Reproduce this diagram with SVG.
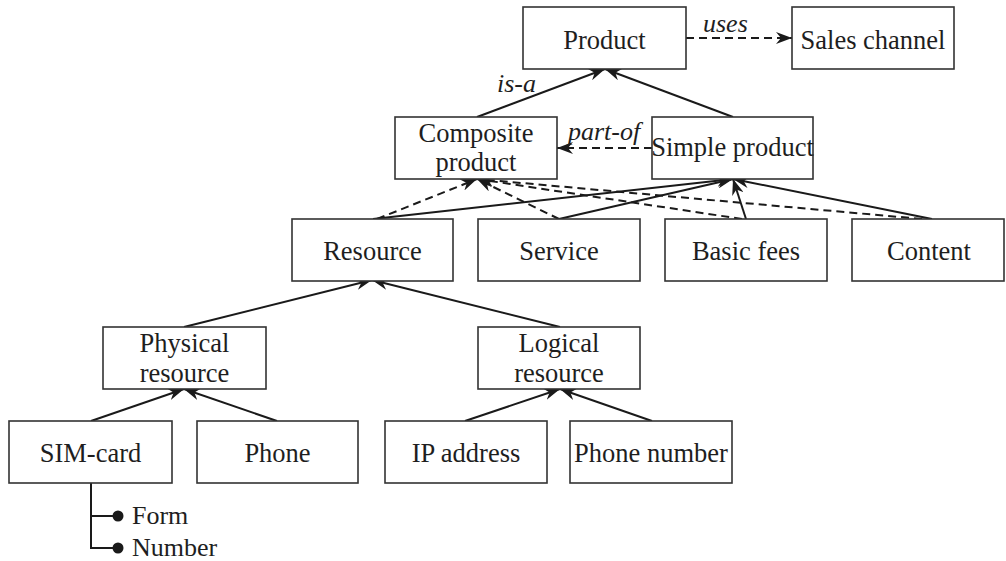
<svg xmlns="http://www.w3.org/2000/svg" width="1006" height="561" viewBox="0 0 1006 561">
<style>
.box{fill:#fff;stroke:#333;stroke-width:1.6}
.t{font-family:"Liberation Serif","Times New Roman",serif;font-size:26.5px;fill:#1e1e1e;text-anchor:middle}
.lbl{font-family:"Liberation Serif","Times New Roman",serif;font-size:26px;font-style:italic;fill:#1e1e1e}
.att{font-family:"Liberation Serif","Times New Roman",serif;font-size:26px;fill:#1e1e1e}
.ln{stroke:#1a1a1a;stroke-width:2;fill:none}
.arr{marker-end:url(#ah)}
.dash{stroke-dasharray:8 5}
</style>
<defs>
<marker id="ah" viewBox="0 0 16 12" markerWidth="16" markerHeight="12" refX="16" refY="6" orient="auto" markerUnits="userSpaceOnUse">
<path d="M0,0 L16,6 L0,12 L5,6 Z" fill="#1a1a1a"/>
</marker>
</defs>
<rect width="1006" height="561" fill="#fff"/>
<g id="connectors">
<line class="ln dash arr" x1="686" y1="38" x2="792" y2="38"/>
<line class="ln arr" x1="477" y1="117" x2="605" y2="69"/>
<line class="ln arr" x1="733" y1="117" x2="605" y2="69"/>
<line class="ln dash arr" x1="652" y1="148" x2="557" y2="148"/>
<line class="ln dash arr" x1="377" y1="219" x2="477" y2="179"/>
<line class="ln dash arr" x1="559" y1="219" x2="477" y2="179"/>
<line class="ln dash arr" x1="742" y1="219" x2="477" y2="179"/>
<line class="ln dash arr" x1="922" y1="219" x2="477" y2="179"/>
<line class="ln arr" x1="373" y1="219" x2="733" y2="179"/>
<line class="ln arr" x1="559" y1="219" x2="733" y2="179"/>
<line class="ln arr" x1="746" y1="219" x2="733" y2="179"/>
<line class="ln arr" x1="932" y1="219" x2="733" y2="179"/>
<line class="ln arr" x1="184" y1="327" x2="372" y2="280"/>
<line class="ln arr" x1="560" y1="327" x2="372" y2="280"/>
<line class="ln arr" x1="91" y1="421" x2="184" y2="389"/>
<line class="ln arr" x1="277" y1="421" x2="184" y2="389"/>
<line class="ln arr" x1="465" y1="421" x2="560" y2="389"/>
<line class="ln arr" x1="652" y1="421" x2="560" y2="389"/>
<path class="ln" d="M91,483 V548 H118 M91,516 H118"/>
<circle cx="118" cy="516" r="5.5" fill="#1a1a1a"/>
<circle cx="118" cy="548" r="5.5" fill="#1a1a1a"/>
<text class="lbl" x="703" y="32">uses</text>
<text class="lbl" x="497" y="92">is-a</text>
<text class="lbl" x="568" y="140">part-of</text>
</g>
<g id="product"><rect class="box" x="523" y="7" width="163" height="62"/><text class="t" x="604.5" y="49">Product</text></g>
<g id="sales-channel"><rect class="box" x="792" y="7" width="162" height="62"/><text class="t" x="873" y="49">Sales channel</text></g>
<g id="composite-product"><rect class="box" x="395" y="117" width="162" height="62"/><text class="t" x="476" y="142">Composite</text><text class="t" x="476" y="171">product</text></g>
<g id="simple-product"><rect class="box" x="652" y="117" width="161" height="62"/><text class="t" x="732.5" y="156">Simple product</text></g>
<g id="resource"><rect class="box" x="292" y="219" width="161" height="62"/><text class="t" x="372.5" y="260">Resource</text></g>
<g id="service"><rect class="box" x="478" y="219" width="162" height="62"/><text class="t" x="559" y="260">Service</text></g>
<g id="basic-fees"><rect class="box" x="665" y="219" width="162" height="62"/><text class="t" x="746" y="260">Basic fees</text></g>
<g id="content"><rect class="box" x="852" y="219" width="152" height="62"/><text class="t" x="929" y="260">Content</text></g>
<g id="physical-resource"><rect class="box" x="103" y="327" width="163" height="62"/><text class="t" x="184.5" y="352">Physical</text><text class="t" x="184.5" y="382">resource</text></g>
<g id="logical-resource"><rect class="box" x="478" y="327" width="162" height="62"/><text class="t" x="559" y="352">Logical</text><text class="t" x="559" y="382">resource</text></g>
<g id="sim-card"><rect class="box" x="9" y="421" width="163" height="62"/><text class="t" x="90.5" y="462">SIM-card</text></g>
<g id="phone"><rect class="box" x="197" y="421" width="161" height="62"/><text class="t" x="277.5" y="462">Phone</text></g>
<g id="ip-address"><rect class="box" x="385" y="421" width="162" height="62"/><text class="t" x="466" y="462">IP address</text></g>
<g id="phone-number"><rect class="box" x="570" y="421" width="162" height="62"/><text class="t" x="651" y="462">Phone number</text></g>
<g id="sim-attributes"><text class="att" x="132" y="524">Form</text><text class="att" x="132" y="556">Number</text></g>
</svg>
